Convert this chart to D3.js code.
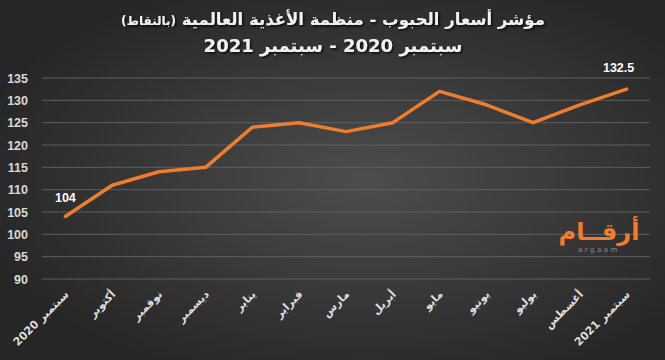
<!DOCTYPE html>
<html><head><meta charset="utf-8">
<script src="https://cdn.jsdelivr.net/npm/d3@7"></script>
<style>html,body{margin:0;padding:0;background:#333;}svg{display:block;}</style>
</head><body>
<script>
const months = ["سبتمبر 2020","أكتوبر","نوفمبر","ديسمبر","يناير","فبراير","مارس","أبريل","مايو","يونيو","يوليو","أغسطس","سبتمبر 2021"];
const values = [104,111,114,115,124,125,123,125,132,129,125,129,132.5];
const yTicks = [90,95,100,105,110,115,120,125,130,135];
const labelIdx = [0,12];

const W=665,H=360;
const svg=d3.select("body").append("svg").attr("width",W).attr("height",H);
const defs=svg.append("defs");
const rg=defs.append("radialGradient").attr("id","bg").attr("cx","55%").attr("cy","50%").attr("r","60%");
rg.append("stop").attr("offset","0%").attr("stop-color","#4d4d4d");
rg.append("stop").attr("offset","100%").attr("stop-color","#262626");
const f=defs.append("filter").attr("id","sh").attr("x","-10%").attr("y","-30%").attr("width","120%").attr("height","160%");
f.append("feDropShadow").attr("dx",1.5).attr("dy",1.5).attr("stdDeviation",1).attr("flood-color","#000").attr("flood-opacity",0.8);
svg.append("rect").attr("width",W).attr("height",H).attr("fill","url(#bg)");

const x=d3.scaleBand().domain(months).range([42,650]);
const y=d3.scaleLinear().domain([90,135]).range([279,78]);

const g=svg.append("g");
g.selectAll("line.grid").data(yTicks).join("line").attr("class","grid")
 .attr("x1",42).attr("x2",650).attr("y1",d=>y(d)).attr("y2",d=>y(d))
 .attr("stroke","#5e5e5e").attr("stroke-width",1);

const yAxis=svg.append("g").attr("transform","translate(42,0)")
 .call(d3.axisLeft(y).tickValues(yTicks).tickSize(0).tickPadding(14));
yAxis.select(".domain").remove();
yAxis.selectAll("text").attr("fill","#d9d9d9").attr("font-family","Liberation Sans, Arial, sans-serif").attr("font-size",12.5).attr("font-weight","bold");

const xAxis=svg.append("g").attr("transform","translate(0,283)")
 .call(d3.axisBottom(x).tickSize(0).tickPadding(0));
xAxis.select(".domain").remove();
xAxis.selectAll("text").attr("fill","#dedede").attr("font-family","DejaVu Sans, sans-serif").attr("font-size",11).attr("font-weight","bold")
 .attr("text-anchor","end").attr("dy","0").attr("transform","translate(4,12) rotate(-45)");

const line=d3.line().x((d,i)=>x(months[i])+x.bandwidth()/2).y(d=>y(d));
svg.append("path").datum(values).attr("d",line).attr("fill","none").attr("stroke","#ef7d2d").attr("stroke-width",3.5).attr("stroke-linejoin","round").attr("stroke-linecap","round");

svg.selectAll("text.lbl").data(labelIdx).join("text").attr("class","lbl")
 .attr("x",i=>x(months[i])+x.bandwidth()/2+(i===0?0:-8)).attr("y",i=>y(values[i])-(i===0?14:17))
 .attr("text-anchor","middle").attr("fill","#fff").attr("font-family","Liberation Sans, Arial, sans-serif").attr("font-size",12.5).attr("font-weight","bold")
 .text(i=>values[i]);

const t1=svg.append("text").attr("x",333).attr("y",25).attr("text-anchor","middle").attr("direction","rtl")
 .attr("fill","#f2f2f2").attr("font-family","DejaVu Sans, sans-serif").attr("font-weight","bold").attr("filter","url(#sh)");
t1.append("tspan").attr("font-size",16.5).text("مؤشر أسعار الحبوب - منظمة الأغذية العالمية ");
t1.append("tspan").attr("font-size",12).text("(بالنقاط)");
svg.append("text").attr("x",333).attr("y",52).attr("text-anchor","middle").attr("direction","rtl")
 .attr("fill","#f2f2f2").attr("font-family","DejaVu Sans, sans-serif").attr("font-weight","bold").attr("font-size",18).attr("filter","url(#sh)")
 .text("سبتمبر 2020 - سبتمبر 2021");

// logo
svg.append("text").attr("x",599).attr("y",240).attr("text-anchor","middle").attr("fill","#ef7d2d")
 .attr("font-family","Noto Sans, DejaVu Sans, sans-serif").attr("font-weight","bold").attr("font-size",24).text("أرقــام");
svg.append("text").attr("x",599).attr("y",252).attr("text-anchor","middle").attr("fill","#8a8a8a")
 .attr("font-family","DejaVu Sans, sans-serif").attr("font-size",7).attr("letter-spacing",2.5).text("argaam");
</script>
</body></html>
